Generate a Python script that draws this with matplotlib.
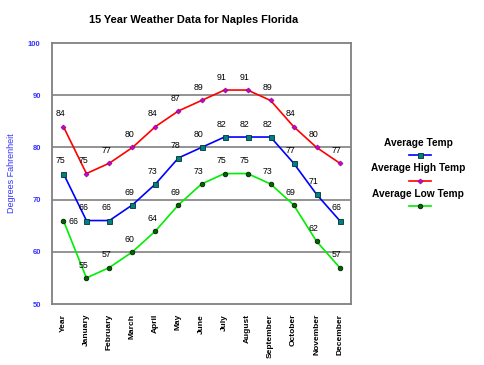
import matplotlib
matplotlib.use("Agg")
import matplotlib.pyplot as plt
from matplotlib.lines import Line2D

plt.rcParams["font.family"] = ["Liberation Sans", "DejaVu Sans"]

months = ["Year", "January", "February", "March", "April", "May", "June",
          "July", "August", "September", "October", "November", "December"]
avg_temp = [75, 66, 66, 69, 73, 78, 80, 82, 82, 82, 77, 71, 66]
high_temp = [84, 75, 77, 80, 84, 87, 89, 91, 91, 89, 84, 80, 77]
low_temp = [66, 55, 57, 60, 64, 69, 73, 75, 75, 73, 69, 62, 57]
y_ticks = [50, 60, 70, 80, 90, 100]

FRAME = "#808080"
BLUE_TXT = "#3333ff"

fig = plt.figure(figsize=(4.85, 3.65), dpi=100)
fig.patch.set_facecolor("white")
ax = fig.add_axes([0.107, 0.167, 0.617, 0.715])

x = list(range(len(months)))

series = [
    ("Average Temp", avg_temp, "#0000ff",
     dict(marker="s", markersize=3.6, markerfacecolor="#008080", markeredgecolor="#003333", markeredgewidth=0.6)),
    ("Average High Temp", high_temp, "#ff0000",
     dict(marker="D", markersize=2.6, markerfacecolor="#cc00cc", markeredgecolor="#800080", markeredgewidth=0.4)),
    ("Average Low Temp", low_temp, "#00ee00",
     dict(marker="o", markersize=3.3, markerfacecolor="#006400", markeredgecolor="#002000", markeredgewidth=0.6)),
]

for name, vals, col, mk in series:
    ax.plot(x, vals, color=col, linewidth=1.2, zorder=3, **mk)
    for i, v in enumerate(vals):
        if name == "Average Low Temp" and i == 0:
            ax.annotate(str(v), (i, v), xytext=(4, -1), textcoords="offset points",
                        ha="left", va="center", fontsize=6.3, zorder=4)
        else:
            ax.annotate(str(v), (i, v), xytext=(-2, 6), textcoords="offset points",
                        ha="center", va="bottom", fontsize=6.3, zorder=4)

ax.set_xlim(-0.5, len(months) - 0.5)
ax.set_ylim(50, 100)
ax.set_yticks(y_ticks)
ax.set_yticklabels([str(t) for t in y_ticks], color=BLUE_TXT, fontsize=5.5, fontweight="bold")
ax.set_xticks(x)
ax.set_xticklabels(months, rotation=90, fontsize=6, fontweight="bold", va="top")
ax.tick_params(axis="x", length=0, pad=7)
ax.tick_params(axis="y", length=0, pad=8)
for v in y_ticks[1:-1]:
    ax.axhline(v, color=FRAME, linewidth=1.2, zorder=1)
for s in ax.spines.values():
    s.set_color(FRAME)
    s.set_linewidth(1.3)

ax.set_ylabel("Degrees Fahrenheit", color=BLUE_TXT, fontsize=6.5)
ax.yaxis.set_label_coords(-0.12, 0.5)
fig.text(0.4, 0.945, "15 Year Weather Data for Naples Florida", ha="center", va="center",
         fontsize=7.9, fontweight="bold")

# Excel-style legend: name above a short line sample
leg_x = 418 / 485
for k, (name, vals, col, mk) in enumerate(series):
    ty = 1 - (143 + k * 25.5) / 365
    ly = 1 - (155 + k * 25.5) / 365
    fig.text(leg_x, ty, name, ha="center", va="center", fontsize=7.3, fontweight="bold")
    fig.add_artist(Line2D([409 / 485, 431 / 485], [ly, ly], color=col, linewidth=1.2,
                          transform=fig.transFigure))
    fig.add_artist(Line2D([leg_x + 2 / 485], [ly], color=col, transform=fig.transFigure,
                          linestyle="none", **mk))

fig.savefig("out.png", dpi=100, facecolor="white")
